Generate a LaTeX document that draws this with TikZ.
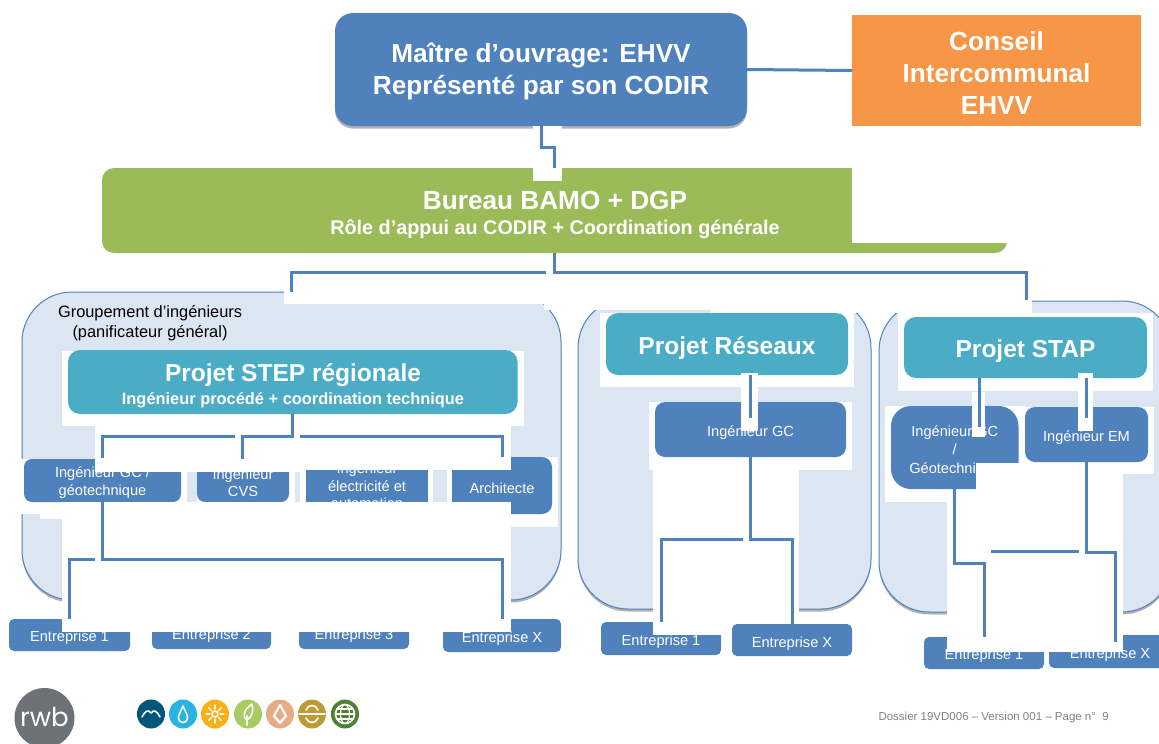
\documentclass[tikz,border=0pt]{standalone}
\usepackage{fontspec}
\setmainfont{Liberation Sans}
\newfontfamily\logofont{Poppins}
\usetikzlibrary{shadows}

\definecolor{boxblue}{HTML}{4F81BD}
\definecolor{boxteal}{HTML}{4BACC6}
\definecolor{boxgreen}{HTML}{9BBB59}
\definecolor{boxorange}{HTML}{F79646}
\definecolor{panelblue}{HTML}{DCE6F2}
\definecolor{logogray}{HTML}{6D7278}

\newcommand{\topgap}[1]{\rule{0pt}{#1}}

\tikzset{
	softshadow/.style={drop shadow={shadow xshift=0pt,shadow yshift=-2.5pt,opacity=.3,fill=black}},
	panel/.style={draw=boxblue,line width=1pt,fill=panelblue,rounded corners=50pt,softshadow},
	whitearea/.style={fill=white,draw=none},
	link/.style={draw=boxblue,line width=3pt},
	dropby/.style={execute at begin node={\rule{0pt}{#1}}},
	bigbox/.style={inner sep=0pt,align=center,text=white,font=\fontsize{26.2}{32}\selectfont\bfseries},
	tealbox/.style={bigbox,fill=boxteal,rounded corners=12pt,font=\fontsize{24.5}{29}\selectfont\bfseries},
	bluebox/.style={inner sep=0pt,align=center,text=white,fill=boxblue,rounded corners=8pt,font=\fontsize{14.6}{17.5}\selectfont},
	iconline/.style={draw=white,line width=1.6pt,line join=round,line cap=round},
}

\begin{document}
\begin{tikzpicture}[x=1pt,y=-1pt]
	\useasboundingbox (0,0) rectangle (1159,744);

	% panels
	\draw[panel](22,292) rectangle (561,600);
	\draw[panel](578,298) rectangle (871,609);
	\draw[panel](879,301) rectangle (1172,612);

	\node[font=\fontsize{16.4}{19}\selectfont,anchor=west](groupe) at (54.5,313) {Groupement d’ingénieurs};
	\node[font=\fontsize{16.4}{19}\selectfont,anchor=west](panif) at (69,333) {(panificateur général)};

	% white areas behind the boxes
	\fill[whitearea](62,351) rectangle (524,426);
	\fill[whitearea](0,459) rectangle (187,514);
	\fill[whitearea](40,514) rectangle (62,519);
	\fill[whitearea](197,459) rectangle (295,502);
	\fill[whitearea](300,470) rectangle (433,502);
	\fill[whitearea](447,457) rectangle (558,527);
	\fill[whitearea](600,313) rectangle (854,387);
	\fill[whitearea](649,402) rectangle (852,470);
	\fill[whitearea](898,313) rectangle (1153,391);
	\fill[whitearea](885,406) rectangle (1025,502);
	\fill[whitearea](1025,407) rectangle (1154,474);

	% boxes
	\node[bigbox,fill=boxblue,rounded corners=18pt,softshadow,minimum width=412,minimum height=113](maitre) at (541,69.5) {\topgap{23pt}Maître d’ouvrage: EHVV\\Représenté par son CODIR};
	\node[bigbox,fill=boxorange,minimum width=289,minimum height=111](conseil) at (996.5,70.5) {\topgap{23pt}Conseil\\Intercommunal\\EHVV};
	\node[bigbox,fill=boxgreen,rounded corners=12pt,minimum width=905,minimum height=85](bureau) at (554.5,210.5) {};
	\node[bigbox](bureautxt) at (555,200) {Bureau BAMO + DGP};
	\node[bigbox,font=\fontsize{19.8}{23}\selectfont\bfseries](bureaurole) at (555,229) {Rôle d’appui au CODIR + Coordination générale};

	\node[tealbox,minimum width=449.5,minimum height=64](stepproj) at (292.75,382) {};
	\node[tealbox](steptxt) at (293,375) {Projet STEP régionale};
	\node[tealbox,font=\fontsize{16.4}{19}\selectfont\bfseries](steprole) at (293,400) {Ingénieur procédé + coordination technique};
	\node[tealbox,dropby=25.5pt,minimum width=242,minimum height=62](reseaux) at (727,344) {Projet Réseaux};
	\node[tealbox,dropby=25.5pt,minimum width=243,minimum height=61](stap) at (1025.5,347.5) {Projet STAP};

	\node[bluebox,minimum width=157,minimum height=43](gcstep) at (102.5,480.5) {\topgap{15pt}Ingénieur GC /\\géotechnique};
	\node[bluebox,minimum width=92,minimum height=43](cvsstep) at (243,480.5) {\topgap{15pt}Ingénieur\\CVS};
	\node[bluebox,rounded corners=0pt,minimum width=122,minimum height=66](elecstep) at (367,486) {Ingénieur\\électricité et\\automation};
	\node[bluebox,dropby=16.5pt,rounded corners=10pt,minimum width=100,minimum height=57](archstep) at (502,485.5) {Architecte};
	\node[bluebox,dropby=16.5pt,rounded corners=10pt,minimum width=191,minimum height=55](gcres) at (750.5,429.5) {Ingénieur GC};
	\node[bluebox,rounded corners=20pt,minimum width=127.5,minimum height=83](gcstap) at (954.75,447.5) {\topgap{18pt}Ingénieur GC\\[1pt]/\\[1pt]Géotechnique};
	\node[bluebox,dropby=16.5pt,rounded corners=10pt,minimum width=123,minimum height=55](emstap) at (1086.5,434.5) {Ingénieur EM};

	\node[bluebox,dropby=16.5pt,rounded corners=5pt,minimum width=121,minimum height=32](entastep) at (69.5,635) {Entreprise 1};
	\node[bluebox,dropby=16.5pt,rounded corners=5pt,minimum width=119,minimum height=32](entbstep) at (211.5,633) {Entreprise 2};
	\node[bluebox,dropby=16.5pt,rounded corners=5pt,minimum width=110,minimum height=32](entcstep) at (354,633) {Entreprise 3};
	\node[bluebox,dropby=16.5pt,rounded corners=5pt,minimum width=118,minimum height=33](entxstep) at (502,635.5) {Entreprise X};
	\node[bluebox,dropby=16.5pt,rounded corners=5pt,minimum width=120,minimum height=33](entares) at (661,638.5) {Entreprise 1};
	\node[bluebox,dropby=16.5pt,rounded corners=5pt,minimum width=120,minimum height=32](entastap) at (984,653) {Entreprise 1};
	\node[bluebox,dropby=16.5pt,rounded corners=5pt,minimum width=122,minimum height=33](entxstap) at (1110,651.5) {Entreprise X};

	% white areas over the boxes
	\fill[whitearea](533,126) rectangle (562,181);
	\fill[whitearea](852,168) rectangle (1010,243);
	\fill[whitearea](284,254) rectangle (544,304);
	\fill[whitearea](544,254) rectangle (711,310);
	\fill[whitearea](711,254) rectangle (1032,313);
	\fill[whitearea](95,426) rectangle (300,472);
	\fill[whitearea](300,426) rectangle (510.5,470);
	\fill[whitearea](62,502) rectangle (510.5,632);
	\fill[whitearea](741,373) rectangle (758,431);
	\fill[whitearea](653,470) rectangle (799,635);
	\fill[whitearea](972,392) rectangle (985,437);
	\fill[whitearea](1077.5,373) rectangle (1093,431);
	\fill[whitearea](976,463) rectangle (1123,652);
	\fill[whitearea](947,502) rectangle (1123,652);

	\node[bluebox,dropby=18pt,rounded corners=5pt,minimum width=120,minimum height=32](entxres) at (792,640) {Entreprise X};

	% free ends of the connectors
	\coordinate (tapstep) at (291,292);
	\coordinate (gapbureau) at (546,272);
	\coordinate (tapstap) at (1026,300);
	\coordinate (tapgc) at (102.5,458);
	\coordinate (gapgc) at (235,436);
	\coordinate (tapcvs) at (242,459);
	\coordinate (taparch) at (502,457);
	\coordinate (gaparch) at (300,436);
	\coordinate (gapent) at (95,559);
	\coordinate (tapgcres) at (750.5,418);
	\coordinate (gapres) at (743,539);
	\coordinate (tapgcstap) at (979.5,427);
	\coordinate (tapemstap) at (1086,418);
	\coordinate (tapentx) at (1115,642);
	\coordinate (barleft) at (991,551);
	\coordinate (barright) at (1079,551);

	\draw[link](maitre.east)--(conseil.west);
	\draw[link](maitre.south)--++(0,21)-|(bureau.north);
	\draw[link](tapstep)|-(gapbureau);
	\draw[link](bureau.south)--++(0,19)-|(tapstap);

	\draw[link](stepproj.south)--++(0,22)-|(tapcvs);
	\draw[link](tapgc)|-(gapgc);
	\draw[link](taparch)|-(gaparch);
	\draw[link](gcstep.south)--++(0,57)-|(entxstep.north);
	\draw[link](entastep.north)|-(gapent);

	\draw[link](reseaux.south -| tapgcres)--(tapgcres);
	\draw[link](gcres.south)--++(0,82)-|(entxres.north);
	\draw[link](entares.north)|-(gapres);

	\draw[link](stap.south -| tapgcstap)--(tapgcstap);
	\draw[link](stap.south -| tapemstap)--(tapemstap);
	\draw[link](gcstap.south)--++(0,74)-|(entastap.north);
	\draw[link](emstap.south)--++(0,90)-|(tapentx);
	\draw[link](barleft)--(barright);

	% logos
	\fill[logogray] (44.5,718) circle (30);
	\node[text=white,font=\logofont\fontsize{26}{26}\selectfont](rwb) at (44.5,717) {rwb};

	\foreach \px/\col in {151/00557A,183/29B3E3,215/FBB016,248/A9CC62,280/E6AC85,312/BE9A36,345/4F8033}{
		\definecolor{iconfill}{HTML}{\col}
		\fill[iconfill] (\px,714) ellipse (14 and 14.5);
	}
	\draw[iconline](142,717) .. controls (145,711) and (148,709) .. (151,713) .. controls (154,709) and (157,711) .. (160,717);
	\draw[iconline](183,706) .. controls (181,711) and (178.5,714) .. (178.5,718) .. controls (178.5,724) and (187.5,724) .. (187.5,718) .. controls (187.5,714) and (185,711) .. cycle;
	\draw[iconline](215,714) circle (3);
	\foreach \ang in {0,45,...,315}{
		\draw[iconline,line width=1.3pt](215,714)++(\ang:5)--++(\ang:4);
	}
	\draw[iconline](247,725)--(247,716);
	\draw[iconline](247,720) .. controls (241,715) and (245,709) .. (252,704) .. controls (254,711) and (252,717) .. (247,720);
	\draw[iconline,line width=2.2pt](280,705)--(286,716)--(280,723)--(274,716)--cycle;
	\draw[iconline](299,714)--(325,714);
	\draw[iconline](306,710) .. controls (308,704) and (316,704) .. (318,710);
	\draw[iconline](306,718) .. controls (308,724) and (316,724) .. (318,718);
	\draw[iconline](345,714) circle (9.5);
	\draw[iconline,line width=1.2pt](345,714) ellipse (4.5 and 9.5);
	\draw[iconline,line width=1.2pt](335.5,714)--(354.5,714);
	\draw[iconline,line width=1.2pt](337,709)--(353,709);
	\draw[iconline,line width=1.2pt](337,719)--(353,719);

	\node[text=black!50,font=\fontsize{11.5}{14}\selectfont,anchor=west](dossier) at (875,718) {Dossier 19VD006 – Version 001 – Page n°\ \ 9};
\end{tikzpicture}
\end{document}
